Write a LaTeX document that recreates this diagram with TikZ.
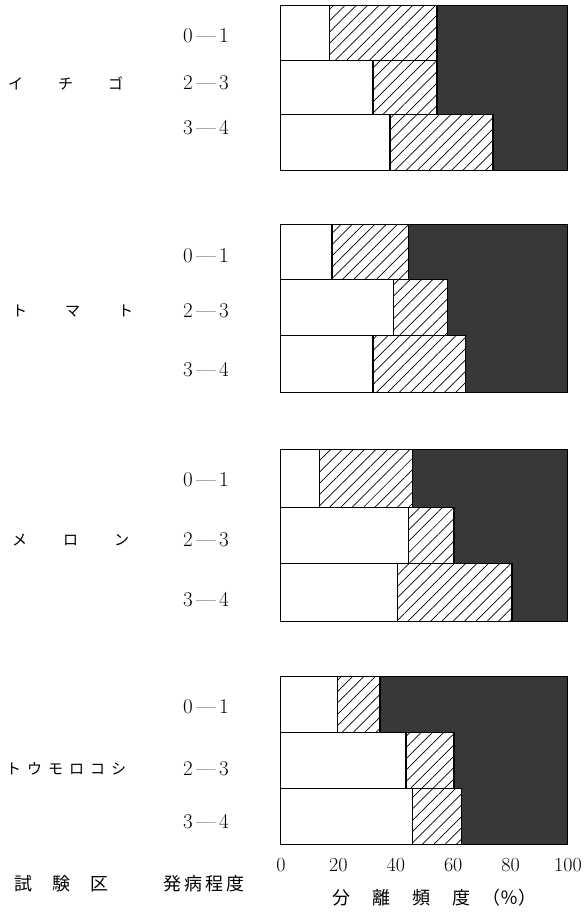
\documentclass[tikz,border=0pt]{standalone}
\usepackage{fontspec}
\newfontfamily\jp{Noto Sans CJK JP}
\usetikzlibrary{patterns.meta}
\tikzset{
  darkfill/.style={draw=black,line width=1pt,fill=black!78},
  whitefill/.style={draw=black,line width=1pt,fill=white},
  hatchfill/.style={draw=black,line width=1pt,pattern={Lines[angle=45,distance=8pt,line width=0.7pt]}},
  num/.style={font=\fontsize{21}{21}\selectfont,inner sep=0pt},
  tick/.style={font=\fontsize{20}{20}\selectfont,inner sep=0pt},
  jpl/.style={font=\jp\fontsize{15}{15}\selectfont,inner sep=0pt},
  jpa/.style={font=\jp\fontsize{18}{18}\selectfont,inner sep=0pt},
}
\newcommand\grpbox[2]{\draw[darkfill] (280,#1) rectangle (567,#2);}
\newcommand\onebar[4]{%
  \draw[whitefill] (280,#1) rectangle ({280+2.87*#3},#2);
  \draw[fill=white] ({280+2.87*#3},#1) rectangle ({280+2.87*#4},#2);
  \draw[hatchfill] ({280+2.87*#3},#1) rectangle ({280+2.87*#4},#2);}
\begin{document}
\begin{tikzpicture}[x=1pt,y=-1pt]
\useasboundingbox (0,0) rectangle (585,916);
% group 1
\grpbox{5}{170}
\onebar{5}{60}{17.1}{54.7}
\onebar{60}{114}{32.4}{54.7}
\onebar{114}{170}{38.3}{74.2}
% group 2
\grpbox{224}{392}
\onebar{224}{279}{18.1}{44.6}
\onebar{279}{335}{39.4}{58.2}
\onebar{335}{392}{32.4}{64.5}
% group 3
\grpbox{449}{621}
\onebar{449}{507}{13.6}{46.0}
\onebar{507}{563}{44.6}{60.6}
\onebar{563}{621}{40.8}{80.8}
% group 4
\grpbox{676}{844}
\onebar{676}{732}{19.9}{34.8}
\onebar{732}{788}{43.9}{60.6}
\onebar{788}{844}{46.0}{63.1}
% range labels
\node[num] (g1a) at (206,36) {0\,—\,1};
\node[num] (g1b) at (206,83) {2\,—\,3};
\node[num] (g1c) at (206,128) {3\,—\,4};
\node[num] (g2a) at (206,256) {0\,—\,1};
\node[num] (g2b) at (206,311) {2\,—\,3};
\node[num] (g2c) at (206,370) {3\,—\,4};
\node[num] (g3a) at (206,480) {0\,—\,1};
\node[num] (g3b) at (206,540) {2\,—\,3};
\node[num] (g3c) at (206,600) {3\,—\,4};
\node[num] (g4a) at (206,707) {0\,—\,1};
\node[num] (g4b) at (206,769) {2\,—\,3};
\node[num] (g4c) at (206,822) {3\,—\,4};
% species
\node[jpl,anchor=west] (sp1) at (8,83) {イ\hspace{35pt}チ\hspace{35pt}ゴ};
\node[jpl,anchor=west] (sp2) at (12,311) {ト\hspace{38pt}マ\hspace{38pt}ト};
\node[jpl,anchor=west] (sp3) at (12,540) {メ\hspace{36pt}ロ\hspace{36pt}ン};
\node[jpl,anchor=west] (sp4) at (6,769) {ト\hspace{6pt}ウ\hspace{6pt}モ\hspace{6pt}ロ\hspace{6pt}コ\hspace{6pt}シ};
% headers
\node[jpa,anchor=west] (h1) at (14,884) {試\hspace{20pt}験\hspace{20pt}区};
\node[jpa,anchor=west] (h2) at (163,884) {発\hspace{3pt}病\hspace{3pt}程\hspace{3pt}度};
% ticks
\node[tick] (t0) at (281,865) {0};
\node[tick] (t20) at (338.4,865) {20};
\node[tick] (t40) at (395.8,865) {40};
\node[tick] (t60) at (453.2,865) {60};
\node[tick] (t80) at (510.6,865) {80};
\node[tick] (t100) at (568,865) {100};
\node[jpa,anchor=west] (xt) at (332,898) {分\hspace{22pt}離\hspace{22pt}頻\hspace{22pt}度\hspace{12pt}（％）};
\end{tikzpicture}
\end{document}
